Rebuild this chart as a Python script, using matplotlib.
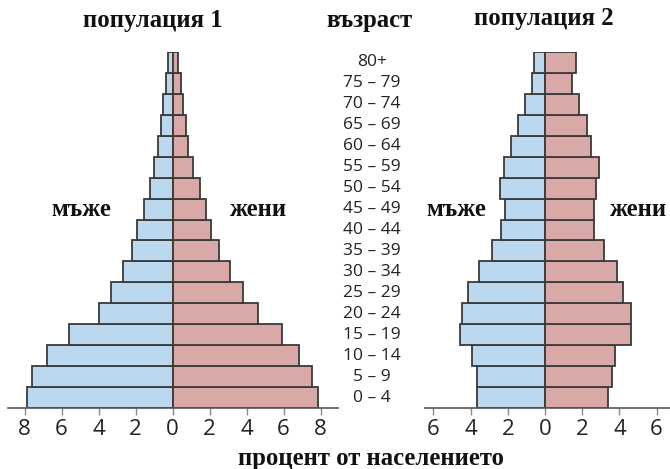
import matplotlib
matplotlib.use("Agg")
import matplotlib.pyplot as plt
import numpy as np

ages = ["0 – 4", "5 – 9", "10 – 14", "15 – 19", "20 – 24", "25 – 29", "30 – 34",
        "35 – 39", "40 – 44", "45 – 49", "50 – 54", "55 – 59", "60 – 64",
        "65 – 69", "70 – 74", "75 – 79", "80+"]

pop1_men = [7.85, 7.6, 6.8, 5.6, 4.0, 3.3, 2.7, 2.2, 1.9, 1.55, 1.2, 0.98, 0.77, 0.62, 0.5, 0.35, 0.25]
pop1_women = [7.85, 7.55, 6.85, 5.9, 4.6, 3.8, 3.1, 2.5, 2.1, 1.8, 1.5, 1.1, 0.84, 0.71, 0.57, 0.46, 0.31]

pop2_men = [3.65, 3.65, 3.95, 4.55, 4.45, 4.15, 3.55, 2.85, 2.35, 2.15, 2.42, 2.2, 1.83, 1.43, 1.1, 0.72, 0.57]
pop2_women = [3.4, 3.6, 3.75, 4.6, 4.65, 4.2, 3.85, 3.15, 2.65, 2.65, 2.72, 2.9, 2.47, 2.24, 1.83, 1.47, 1.68]

ticks1 = [-8, -6, -4, -2, 0, 2, 4, 6, 8]
ticks2 = [-6, -4, -2, 0, 2, 4, 6]

blue = "#bcd8ee"
pink = "#d9a9a8"
edge = "#3a3a3a"

W, H = 670, 469
fig = plt.figure(figsize=(W / 100, H / 100), dpi=100)

def fx(px):
    return px / W

def fy(py):
    return 1 - py / H

bottom_px, top_px = 408, 52
serif = ["Liberation Serif", "DejaVu Serif"]
sans = ["Open Sans", "DejaVu Sans"]

def make_axes(left_px, right_px):
    ax = fig.add_axes([fx(left_px), fy(bottom_px), fx(right_px - left_px),
                       (bottom_px - top_px) / H])
    return ax

def draw(ax, men, women, xlim, ticks):
    y = np.arange(len(ages))
    ax.barh(y, [-m for m in men], height=1.0, color=blue, edgecolor=edge, linewidth=1.3)
    ax.barh(y, women, height=1.0, color=pink, edgecolor=edge, linewidth=1.3)
    ax.set_xlim(*xlim)
    ax.set_ylim(-0.5, len(ages) - 0.5)
    for s in ["top", "right", "left"]:
        ax.spines[s].set_visible(False)
    ax.spines["bottom"].set_color("#555555")
    ax.spines["bottom"].set_linewidth(1.2)
    ax.set_yticks([])
    ax.set_xticks(ticks)
    ax.set_xticklabels([str(abs(t)) for t in ticks], fontsize=16, family=sans, color="#222222")
    ax.tick_params(axis="x", length=5, width=1, color="#888888", pad=3)
    ax.patch.set_alpha(0)

# left pyramid: 0 at x=172.5 px, 18.5 px per unit
ax1 = make_axes(8, 338)
c1, s1 = 172.5, 18.5
draw(ax1, pop1_men, pop1_women, ((8 - c1) / s1, (338 - c1) / s1), ticks1)

ax2 = make_axes(425, 670)
c2, s2 = 545, 18.6
draw(ax2, pop2_men, pop2_women, ((425 - c2) / s2, (670 - c2) / s2), ticks2)

# age labels
row_h = (bottom_px - top_px) / len(ages)
for i, a in enumerate(ages):
    ypx = bottom_px - (i + 0.5) * row_h
    fig.text(fx(372), fy(ypx), a, ha="center", va="center", fontsize=12.5,
             family=sans, color="#222222")

bold = dict(family=serif, fontweight="bold", color="#111111")
fs = 17.8
fig.text(fx(153), fy(21), "популация 1", ha="center", va="center", fontsize=fs, **bold)
fig.text(fx(369), fy(21), "възраст", ha="center", va="center", fontsize=fs, **bold)
fig.text(fx(544), fy(19), "популация 2", ha="center", va="center", fontsize=fs, **bold)
fig.text(fx(81), fy(209), "мъже", ha="center", va="center", fontsize=fs, **bold)
fig.text(fx(258), fy(209), "жени", ha="center", va="center", fontsize=fs, **bold)
fig.text(fx(456), fy(210), "мъже", ha="center", va="center", fontsize=fs, **bold)
fig.text(fx(638), fy(210), "жени", ha="center", va="center", fontsize=fs, **bold)
fig.text(fx(371), fy(458), "процент от населението", ha="center", va="center", fontsize=fs, **bold)

fig.savefig("out.png", dpi=100)
